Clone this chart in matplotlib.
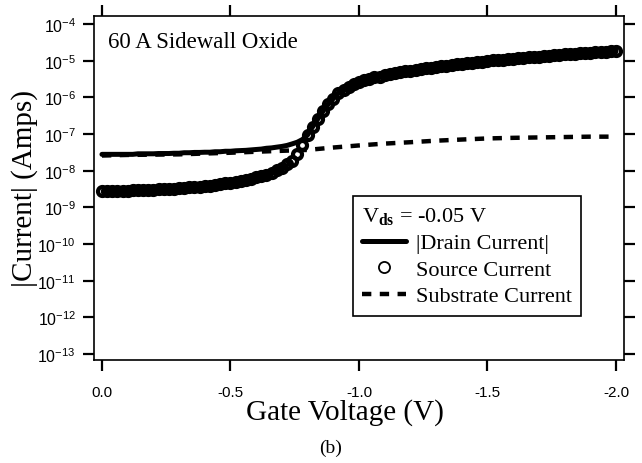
import numpy as np
import matplotlib.pyplot as plt

# Gate sweep, 20 mV steps from 0 to -2 V
gate_voltage = np.linspace(0.0, -2.0, 101)

# Source current (A)
source_current = [
    2.8e-9, 2.8e-9, 2.8e-9, 2.8e-9, 2.8e-9, 2.8e-9, 2.9e-9, 2.9e-9, 2.95e-9, 2.95e-9,
    3.0e-9, 3.1e-9, 3.1e-9, 3.16e-9, 3.2e-9, 3.3e-9, 3.4e-9, 3.5e-9, 3.55e-9, 3.6e-9,
    3.8e-9, 3.9e-9, 4.1e-9, 4.3e-9, 4.5e-9, 4.7e-9, 4.9e-9, 5.2e-9, 5.6e-9, 6.0e-9,
    6.6e-9, 7.2e-9, 7.9e-9, 8.9e-9, 1.02e-8, 1.2e-8, 1.5e-8, 1.9e-8, 2.8e-8, 5.0e-8,
    9.5e-8, 1.6e-7, 2.6e-7, 4.2e-7, 6.5e-7, 9.3e-7, 1.3e-6, 1.6e-6, 1.95e-6, 2.3e-6,
    2.6e-6, 2.9e-6, 3.2e-6, 3.5e-6, 3.7e-6, 4.0e-6, 4.3e-6, 4.6e-6, 4.8e-6, 5.1e-6,
    5.4e-6, 5.6e-6, 5.9e-6, 6.2e-6, 6.5e-6, 6.8e-6, 7.1e-6, 7.2e-6, 7.6e-6, 7.9e-6,
    8.1e-6, 8.5e-6, 8.9e-6, 9.1e-6, 9.5e-6, 9.8e-6, 1.02e-5, 1.05e-5, 1.07e-5, 1.10e-5,
    1.12e-5, 1.15e-5, 1.20e-5, 1.23e-5, 1.26e-5, 1.29e-5, 1.32e-5, 1.38e-5, 1.41e-5, 1.45e-5,
    1.48e-5, 1.51e-5, 1.55e-5, 1.58e-5, 1.62e-5, 1.66e-5, 1.70e-5, 1.74e-5, 1.78e-5, 1.82e-5,
    1.86e-5,
]

# |Drain current| below threshold (0 .. -0.78 V); above that it sits on the source curve
drain_subthreshold = [
    2.8e-8, 2.8e-8, 2.8e-8, 2.8e-8, 2.8e-8, 2.8e-8, 2.8e-8, 2.9e-8, 2.9e-8, 2.9e-8,
    2.9e-8, 2.95e-8, 2.95e-8, 2.95e-8, 3.0e-8, 3.0e-8, 3.1e-8, 3.1e-8, 3.16e-8, 3.16e-8,
    3.2e-8, 3.2e-8, 3.3e-8, 3.3e-8, 3.4e-8, 3.4e-8, 3.5e-8, 3.55e-8, 3.6e-8, 3.7e-8,
    3.8e-8, 3.9e-8, 4.1e-8, 4.2e-8, 4.4e-8, 4.6e-8, 4.9e-8, 5.4e-8, 6.0e-8, 7.1e-8,
]
drain_current = drain_subthreshold + source_current[40:]

# Substrate current (A)
substrate_voltage = [0.0, -0.1, -0.2, -0.3, -0.4, -0.5, -0.6, -0.7, -0.8, -0.9, -1.0,
                     -1.1, -1.2, -1.3, -1.4, -1.5, -1.6, -1.7, -1.8, -1.9, -2.0]
substrate_current = [2.6e-8, 2.7e-8, 2.75e-8, 2.8e-8, 2.95e-8, 3.1e-8, 3.3e-8, 3.5e-8,
                     3.7e-8, 4.3e-8, 4.9e-8, 5.5e-8, 6.0e-8, 6.6e-8, 7.1e-8, 7.6e-8,
                     7.9e-8, 8.1e-8, 8.3e-8, 8.5e-8, 8.5e-8]

xtick_values = [0.0, -0.5, -1.0, -1.5, -2.0]
xtick_labels = ["0.0", "-0.5", "-1.0", "-1.5", "-2.0"]
ytick_exponents = [-13, -12, -11, -10, -9, -8, -7, -6, -5, -4]

serif = "Liberation Serif"
sans = "Liberation Sans"
plt.rcParams["mathtext.fontset"] = "custom"
plt.rcParams["mathtext.rm"] = serif
plt.rcParams["mathtext.bf"] = serif + ":bold"

fig = plt.figure(figsize=(6.42, 4.64), dpi=100)
ax = fig.add_axes([0.1464, 0.222, 0.8255, 0.7414])

# Plot the three currents
ax.plot(substrate_voltage, substrate_current, color="black", lw=3.2,
        dashes=(2.1, 1.9), label="Substrate Current")
ax.plot(gate_voltage, drain_current, color="black", lw=3.6,
        solid_capstyle="round", label="|Drain Current|")
ax.plot(gate_voltage, source_current, "o", ms=6.5, mfc="none", mec="black",
        mew=3.0, label="Source Current")

ax.set_yscale("log")
ax.set_xlim(0.031, -2.031)
ax.set_ylim(10 ** -13.16, 10 ** -3.78)

ax.set_xticks(xtick_values)
ax.set_xticklabels(xtick_labels, fontfamily=sans, fontsize=11)
ax.set_yticks([10.0 ** e for e in ytick_exponents])
ax.set_yticklabels([r"$\mathregular{10^{%d}}$" % e for e in ytick_exponents],
                   fontfamily=sans, fontsize=11.5)
ax.minorticks_off()
ax.tick_params(axis="both", which="major", direction="out", length=8, width=1.6,
               top=True, right=True, color="black")
ax.tick_params(axis="x", pad=10)
ax.tick_params(axis="y", pad=5)
for spine in ax.spines.values():
    spine.set_linewidth(1.2)

ax.set_xlabel("Gate Voltage (V)", fontfamily=serif, fontsize=21)
ax.set_ylabel("|Current| (Amps)", fontfamily=serif, fontsize=21)
ax.xaxis.set_label_coords(0.4736, -0.11)
ax.yaxis.set_label_coords(-0.106, 0.5)

ax.text(0.027, 0.925, "60 A Sidewall Oxide", transform=ax.transAxes,
        fontfamily=serif, fontsize=16.5, va="center", ha="left")

# Legend in the order shown on the chart
handles, labels = ax.get_legend_handles_labels()
order = [1, 2, 0]
leg = ax.legend([handles[i] for i in order], [labels[i] for i in order],
                title=r"V$_{\mathbf{ds}}$ = -0.05 V", alignment="left",
                loc="upper left", bbox_to_anchor=(0.489, 0.477),
                prop={"family": serif, "size": 16},
                title_fontproperties={"family": serif, "size": 16},
                frameon=True, fancybox=False, framealpha=1, edgecolor="black",
                handlelength=1.95, handletextpad=0.45, labelspacing=0.27,
                borderpad=0.42, borderaxespad=0, markerscale=1.0)
leg.get_frame().set_linewidth(1.2)
for line in leg.get_lines():
    line.set_markeredgewidth(1.3)
    line.set_markersize(8)

fig.text(331 / 642, 1 - 448 / 464, "(b)", fontfamily=serif, fontsize=14,
         ha="center", va="center")

fig.savefig("out.png", dpi=100)
